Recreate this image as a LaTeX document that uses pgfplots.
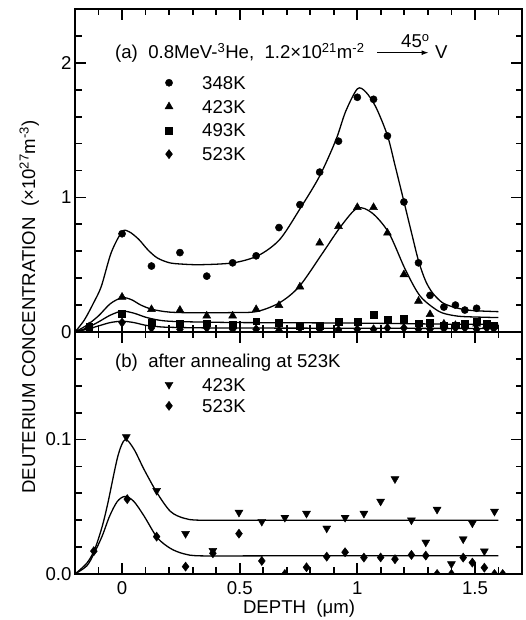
\documentclass[border=0pt]{standalone}
\usepackage{pgfplots}
\pgfplotsset{compat=1.18}
\usetikzlibrary{arrows.meta}
\usepackage{fontspec}
\setmainfont{Liberation Sans}
\newcommand{\fs}{\fontsize{18.6}{22}\selectfont}

\pgfplotsset{
  panel/.style={
    scale only axis, width=447pt, xmin=-0.2, xmax=1.7,
    anchor=south west,
    axis line style={line width=2pt},
    every tick/.style={line width=1.8pt, black},
    major tick length=11pt, minor tick length=6.5pt,
    xtick={0,0.5,1,1.5},
    minor xtick={-0.1,0.1,0.2,0.3,0.4,0.6,0.7,0.8,0.9,1.1,1.2,1.3,1.4,1.6},
    tick label style={font=\fs},
    /pgf/number format/assume math mode=true,
    clip marker paths=true,
    legend cell align=left,
    legend style={draw=none, fill=none, inner sep=0pt, font=\fs,
      nodes={inner sep=0pt, anchor=base west}},
    legend image code/.code={
      \draw[#1] plot coordinates {(0pt,6.6pt)};
      \node[draw=none, fill=none, inner sep=0pt, minimum size=0pt] at (33pt,6.6pt) {};},
  },
  curve/.style={black, line width=1.3pt, smooth, tension=0.5, no marks, forget plot},
  pts/.style={black, only marks, mark options={fill=black, draw=black}},
}

\begin{document}
\begin{tikzpicture}

% ---------- (a) as-implanted ----------
\begin{axis}[panel, at={(75pt,288pt)}, height=323pt,
  ymin=0, ymax=2.4, ytick={0,1,2},
  minor ytick={0.2,0.4,0.6,0.8,1.2,1.4,1.6,1.8,2.2},
  xticklabels={},
  legend style={at={(axis description cs:0.201,0.792)}, anchor=north west,
    row sep=9.3pt},
]
\addplot[pts, mark=*, mark size=3.6pt] coordinates {
  (-0.14,0.035) (0,0.73) (0.125,0.49) (0.246,0.59) (0.36,0.415) (0.47,0.514)
  (0.57,0.566) (0.667,0.776) (0.756,0.946) (0.84,1.188) (0.92,1.418)
  (1.0,1.744) (1.069,1.729) (1.128,1.457) (1.198,0.966) (1.26,0.514)
  (1.309,0.272) (1.368,0.185) (1.417,0.2) (1.457,0.163) (1.507,0.176)
};
\addlegendentry{348K}
\addplot[pts, mark=triangle*, mark size=4.6pt] coordinates {
  (-0.14,0.04) (0,0.26) (0.125,0.168) (0.246,0.163) (0.36,0.12) (0.47,0.12)
  (0.57,0.168) (0.667,0.198) (0.756,0.336) (0.84,0.662) (0.92,0.785)
  (1.0,0.926) (1.069,0.926) (1.128,0.736) (1.198,0.427) (1.26,0.23)
  (1.309,0.131) (1.368,0.06) (1.417,0.05) (1.457,0.05) (1.507,0.06) (1.55,0.05)
};
\addlegendentry{423K}
\addplot[pts, mark=square*, mark size=3.4pt] coordinates {
  (-0.14,0.04) (0,0.138) (0.125,0.07) (0.246,0.062) (0.36,0.065) (0.47,0.057)
  (0.57,0.08) (0.667,0.07) (0.756,0.045) (0.84,0.045) (0.92,0.077) (1.0,0.074)
  (1.069,0.13) (1.128,0.09) (1.198,0.098) (1.26,0.065) (1.309,0.07)
  (1.368,0.05) (1.417,0.05) (1.457,0.06) (1.507,0.08) (1.55,0.06) (1.58,0.05)
};
\addlegendentry{493K}
\addplot[pts, mark=diamond*, mark size=4.6pt] coordinates {
  (-0.14,0.03) (0,0.07) (0.125,0.03) (0.246,0.02) (0.36,0.03) (0.47,0.02)
  (0.57,0.02) (0.667,0.01) (0.756,0.03) (0.84,0.02) (0.92,0.015) (1.0,0.02)
  (1.069,0.02) (1.128,0.03) (1.198,0.03) (1.26,0.02) (1.309,0.02)
  (1.368,0.025) (1.417,0.03) (1.457,0.03) (1.507,0.02) (1.55,0.03) (1.58,0.025)
};
\addlegendentry{523K}

% fitted curves
\addplot[curve] coordinates {
  (-0.2,0.0) (-0.16,0.09) (-0.12,0.22) (-0.088,0.34) (-0.046,0.59) (0,0.745)
  (0.03,0.745) (0.07,0.69) (0.11,0.61) (0.15,0.55) (0.2,0.515) (0.25,0.505)
  (0.333,0.50) (0.473,0.514) (0.579,0.568) (0.67,0.687) (0.754,0.909)
  (0.839,1.156) (0.909,1.427) (0.95,1.637) (1.0,1.806) (1.035,1.785)
  (1.078,1.674) (1.128,1.46) (1.16,1.24) (1.198,0.97) (1.23,0.74)
  (1.26,0.53) (1.29,0.38) (1.32,0.29) (1.36,0.22) (1.4,0.19) (1.45,0.168)
  (1.5,0.158) (1.6,0.151)
};
\addplot[curve] coordinates {
  (-0.2,0.0) (-0.15,0.05) (-0.1,0.12) (-0.05,0.21) (0,0.255) (0.04,0.24)
  (0.08,0.2) (0.129,0.168) (0.2,0.148) (0.3,0.143) (0.46,0.144) (0.572,0.152)
  (0.67,0.218) (0.754,0.34) (0.853,0.588) (0.93,0.785) (1.0,0.92) (1.063,0.884)
  (1.134,0.736) (1.204,0.464) (1.267,0.267) (1.344,0.156) (1.4,0.125)
  (1.457,0.114) (1.6,0.107)
};
\addplot[curve] coordinates {
  (-0.2,0.0) (-0.15,0.03) (-0.1,0.075) (-0.05,0.125) (0,0.155) (0.05,0.14)
  (0.1,0.11) (0.15,0.09) (0.2,0.08) (0.3,0.075) (0.5,0.07) (0.8,0.068)
  (1.0,0.066) (1.2,0.062) (1.4,0.058) (1.6,0.057)
};
\addplot[curve] coordinates {
  (-0.2,0.0) (-0.15,0.02) (-0.1,0.045) (-0.05,0.07) (0,0.08) (0.05,0.07)
  (0.1,0.05) (0.15,0.04) (0.2,0.035) (0.4,0.03) (1.0,0.028) (1.6,0.026)
};
\end{axis}

% ---------- (b) after annealing ----------
\begin{axis}[panel, at={(75pt,46pt)}, height=242pt,
  ymin=0, ymax=0.18, ytick={0,0.1},
  minor ytick={0.02,0.04,0.06,0.08,0.12,0.14,0.16},
  yticklabel style={/pgf/number format/.cd, fixed, fixed zerofill, precision=1},
  xticklabel style={yshift=-4pt},
  legend style={at={(axis description cs:0.201,0.81)}, anchor=north west,
    row sep=6.8pt},
]
\addplot[pts, mark=triangle*, mark size=4.6pt, mark options={rotate=180}] coordinates {
  (0.018,0.102) (0.147,0.062) (0.27,0.030) (0.386,0.0174) (0.497,0.0458)
  (0.594,0.039) (0.692,0.042) (0.784,0.045) (0.87,0.034) (0.948,0.042)
  (1.028,0.045) (1.099,0.054) (1.16,0.0707) (1.23,0.040) (1.291,0.0236)
  (1.339,0.048) (1.40,0.0075) (1.45,0.026) (1.489,0.0378) (1.54,0.017)
  (1.583,0.0465)
};
\addlegendentry{423K}
\addplot[pts, mark=diamond*, mark size=4.6pt] coordinates {
  (-0.12,0.017) (0.022,0.0557) (0.147,0.0278) (0.27,0.0055) (0.386,0.0154)
  (0.497,0.030) (0.594,0.0097) (0.692,0.0) (0.784,0.005) (0.87,0.0129)
  (0.948,0.0162) (1.028,0.0122) (1.099,0.0123) (1.16,0.011) (1.23,0.0142)
  (1.291,0.0137) (1.339,0.0) (1.40,0.0) (1.45,0.0122) (1.489,0.0085)
  (1.54,0.0047) (1.583,0.0) (1.618,0.0)
};
\addlegendentry{523K}

\addplot[curve] coordinates {
  (-0.2,0.0) (-0.15,0.008) (-0.117,0.018) (-0.085,0.035) (-0.06,0.053)
  (-0.018,0.0875) (0.013,0.100) (0.05,0.093) (0.094,0.0776) (0.15,0.060)
  (0.206,0.0465) (0.263,0.0415) (0.333,0.040) (0.6,0.040) (1.0,0.040)
  (1.6,0.040)
};
\addplot[curve] coordinates {
  (-0.2,0.0) (-0.15,0.006) (-0.12,0.015) (-0.085,0.028) (-0.053,0.043)
  (-0.02,0.054) (0.013,0.0577) (0.05,0.054) (0.094,0.043) (0.15,0.027)
  (0.206,0.019) (0.263,0.015) (0.333,0.0135) (0.6,0.0135) (1.0,0.0135)
  (1.6,0.0135)
};
\end{axis}

% ---------- annotations ----------
\node[font=\fs, anchor=base west, inner sep=0pt] at (115pt,561pt)
  {(a)\ \ 0.8MeV-\textsuperscript{3}He,\ \ 1.2×10\textsuperscript{21}m\textsuperscript{-2}};
\draw[line width=1pt, -{Latex[length=7pt,width=5pt]}] (377pt,567.3pt) -- (428.5pt,567.3pt);
\node[font=\fs, anchor=base west, inner sep=0pt] at (401pt,572.7pt) {45\textsuperscript{o}};
\node[font=\fs, anchor=base west, inner sep=0pt] at (435pt,561pt) {V};
\node[font=\fs, anchor=base west, inner sep=0pt] at (115pt,252pt)
  {(b)\ \ after annealing at 523K};
\node[font=\fs, anchor=base, inner sep=0pt] at (299pt,6.7pt) {DEPTH\ \ (μm)};
\node[font=\fs, anchor=base, inner sep=0pt, rotate=90] at (35pt,313pt)
  {DEUTERIUM CONCENTRATION\ \ (×10\textsuperscript{27}m\textsuperscript{-3})};

\pgfresetboundingbox
\useasboundingbox (0pt,0pt) rectangle (526pt,620pt);
\end{tikzpicture}
\end{document}
